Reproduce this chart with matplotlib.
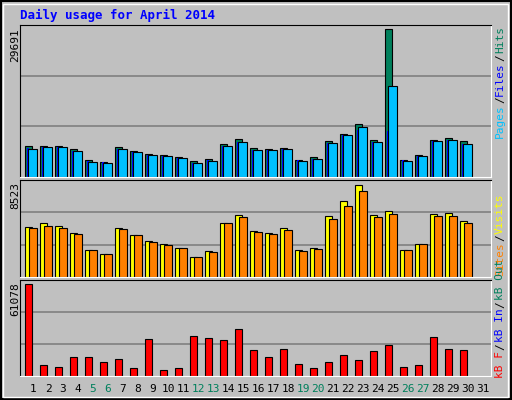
import matplotlib
matplotlib.use('Agg')
import matplotlib.pyplot as plt
import numpy as np

days = list(range(1, 32))
weekend = [5, 6, 12, 13, 19, 20, 26, 27]

hits = [6314, 6314, 6180, 5709, 3493, 3090, 5978, 5172, 4702, 4366, 3963, 3157, 3560, 6583, 7590,
        5777, 5575, 5777, 3493, 3963, 7187, 8598, 10613, 7389, 29691, 3493, 4366, 7389, 7792, 7187]
files = [5800, 6000, 6000, 5200, 3150, 2950, 5600, 5000, 4450, 4200, 3800, 2800, 3350, 6200, 7050,
         5400, 5400, 5600, 3350, 3600, 6800, 8400, 9400, 7000, 9202, 3350, 4200, 7200, 7400, 6600]
pages = [5709, 5978, 5978, 5172, 3090, 2888, 5575, 4971, 4366, 4165, 3762, 2754, 3291, 6180, 6986,
         5374, 5374, 5575, 3291, 3560, 6784, 8396, 10008, 6986, 18203, 3291, 4165, 7187, 7389, 6583]
visits = [4646, 5016, 4739, 4092, 2523, 2154, 4554, 3908, 3354, 3077, 2708, 1877, 2431, 5016, 5754,
          4277, 4092, 4554, 2523, 2708, 5662, 7046, 8523, 5754, 6123, 2523, 3077, 5846, 5939, 5200]
sites = [4554, 4739, 4554, 4000, 2523, 2154, 4462, 3908, 3262, 2985, 2708, 1877, 2339, 5016, 5569,
         4185, 4000, 4369, 2431, 2615, 5385, 6585, 7969, 5569, 5846, 2523, 3077, 5662, 5662, 5015]
kbytes = [61078, 7551, 6219, 12882, 12882, 9550, 11549, 5553, 24875, 4220, 5553, 26874, 25542, 24209, 31538,
          17546, 12882, 18212, 8218, 5553, 9550, 14214, 10883, 16880, 20877, 6219, 7551, 26208, 18212, 17546]

bg = '#C0C0C0'
mono = 'DejaVu Sans Mono'
W, H = 512, 400

fig = plt.figure(figsize=(5.12, 4.0), dpi=100, facecolor=bg)
fig.patches.append(plt.Rectangle((1 / W, 1 / H), 1 - 2 / W, 1 - 2 / H, transform=fig.transFigure,
                                 fill=False, edgecolor='black', lw=1.5))
fig.patches.append(plt.Rectangle((3 / W, 3 / H), 1 - 7 / W, 1 - 7 / H, transform=fig.transFigure,
                                 fill=False, edgecolor='white', lw=1))


def panel(top, bottom):
    ax = fig.add_axes([20 / W, 1 - bottom / H, 471 / W, (bottom - top) / H])
    ax.set_facecolor(bg)
    ax.set_xlim(0, 31.4)
    ax.set_xticks([])
    ax.set_yticks([])
    for s in ['left', 'top']:
        ax.spines[s].set_color('black')
    for s in ['right', 'bottom']:
        ax.spines[s].set_color('white')
    return ax


x = np.arange(30)
kw = dict(edgecolor='black', linewidth=0.8, align='edge')

# top panel: hits / files / pages
ax1 = panel(25, 177)
ymax1 = max(hits) * 152 / 148
ax1.set_ylim(0, ymax1)
for f in (1 / 3, 2 / 3):
    ax1.axhline(ymax1 * f, color='#808080', lw=1.2, zorder=0)
ax1.bar(x + 0.33, hits, 0.47, color='#00805C', **kw)
ax1.bar(x + 0.45, files, 0.15, color='#0000FF', linewidth=0, align='edge')
ax1.bar(x + 0.56, pages, 0.55, color='#00C0FF', **kw)

# middle panel: visits / sites
ax2 = panel(180, 277)
ymax2 = max(visits) * 97 / 92.3
ax2.set_ylim(0, ymax2)
for f in (1 / 3, 2 / 3):
    ax2.axhline(ymax2 * f, color='#808080', lw=1.2, zorder=0)
ax2.bar(x + 0.33, visits, 0.47, color='#FFFF00', **kw)
ax2.bar(x + 0.63, sites, 0.48, color='#FF8000', **kw)

# bottom panel: kB
ax3 = panel(280, 376)
ymax3 = max(kbytes) * 96 / 91.7
ax3.set_ylim(0, ymax3)
for f in (1 / 3, 2 / 3):
    ax3.axhline(ymax3 * f, color='#808080', lw=1.2, zorder=0)
ax3.bar(x + 0.36, kbytes, 0.44, color='#FF0000', **kw)

# day labels
for d in days:
    c = '#00805C' if d in weekend else 'black'
    fig.text((20 + 15 * (d - 1) + 13) / W, 1 - 389 / H, str(d), ha='center', va='center',
             fontsize=8, family=mono, color=c)

fig.text(20 / W, 1 - 15 / H, 'Daily usage for April 2014', ha='left', va='center',
         fontsize=9, family=mono, fontweight='bold', color='#0000FF')

for y, lab in [(28, '29691'), (182, '8523'), (282, '61078')]:
    fig.text(15 / W, 1 - y / H, lab, rotation=90, ha='center', va='top', fontsize=8, family=mono)

renderer = fig.canvas.get_renderer()


def side_label(y_bottom, parts):
    y = y_bottom
    for txt, col in parts:
        t = fig.text(500 / W, 1 - y / H, txt, rotation=90, ha='center', va='bottom',
                     fontsize=8, family=mono, color=col)
        ext = t.get_window_extent(renderer)
        y -= ext.height + 1


side_label(138, [('Pages', '#00C0FF'), ('/', 'black'), ('Files', '#0000FF'), ('/', 'black'), ('Hits', '#00805C')])
side_label(276, [('Sites', '#FF8000'), ('/', 'black'), ('Visits', '#FFFF00')])
side_label(378, [('kB F', '#FF0000'), ('/', 'black'), ('kB In', '#0000FF'), ('/', 'black'), ('kB Out', '#00805C')])

fig.savefig('out.png', dpi=100, facecolor=bg)
